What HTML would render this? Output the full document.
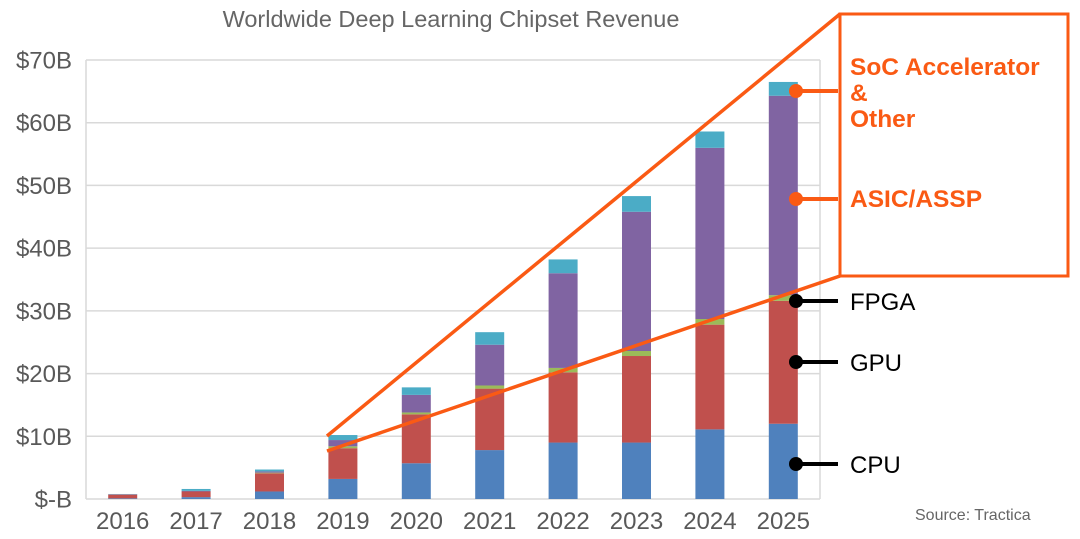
<!DOCTYPE html>
<html><head><meta charset="utf-8"><style>
body{margin:0;background:#fff;width:1080px;height:534px;overflow:hidden;font-family:"Liberation Sans",Arial,sans-serif}
</style></head><body>
<svg width="1080" height="534" id="svg" xmlns="http://www.w3.org/2000/svg">
<text x="451" y="27" text-anchor="middle" font-size="23.5" fill="#666">Worldwide Deep Learning Chipset Revenue</text>
<g id="grid"></g><g id="bars"></g><g id="ann"></g>
<text x="915" y="520" font-size="16" fill="#666">Source: Tractica</text>
</svg>
<script>
const years=["2016","2017","2018","2019","2020","2021","2022","2023","2024","2025"];
const cpu=[0.1,0.3,1.2,3.2,5.7,7.8,9.0,9.0,11.1,12.0];
const gpu=[0.6,0.9,2.9,4.9,7.8,9.8,11.2,13.8,16.7,19.6];
const fpga=[0.0,0.0,0.1,0.3,0.3,0.5,0.7,0.8,0.9,0.9];
const asic=[0.05,0.1,0.2,1.0,2.8,6.5,15.1,22.2,27.3,31.8];
const soc=[0.05,0.3,0.3,0.8,1.2,2.0,2.2,2.5,2.6,2.2];
const yTicks=[0,10,20,30,40,50,60,70];
const yTickLabels=["$-B","$10B","$20B","$30B","$40B","$50B","$60B","$70B"];
const series=[["cpu",cpu,"#4f81bd"],["gpu",gpu,"#c0504d"],["fpga",fpga,"#9bbb59"],["asic",asic,"#8064a2"],["soc",soc,"#4bacc6"]];
const NS="http://www.w3.org/2000/svg";
const L=86,R=820,T=60,B=499;
const y=v=>B-(v/70)*(B-T);
const step=(R-L)/years.length;
const x=i=>L+step*(i+0.5);
function mk(tag,attrs,parent,text){const e=document.createElementNS(NS,tag);for(const k in attrs)e.setAttribute(k,attrs[k]);if(text!==undefined)e.textContent=text;parent.appendChild(e);return e;}
const grid=document.getElementById('grid');
mk('line',{x1:L,y1:T,x2:L,y2:B,stroke:'#d9d9d9','stroke-width':1.5},grid);
mk('line',{x1:R,y1:T,x2:R,y2:B,stroke:'#d9d9d9','stroke-width':1.5},grid);
yTicks.forEach((t,i)=>{
 const l=mk('line',{x1:L,y1:y(t),x2:R,y2:y(t),stroke:'#d9d9d9','stroke-width':1.5},grid);
 
 
 const tx=mk('text',{x:72,y:y(t)+8.5,'text-anchor':'end','font-size':24,fill:'#595959'},grid,yTickLabels[i]);
 
 
});
const bars=document.getElementById('bars');
years.forEach((yr,i)=>{
 let base=0;
 series.forEach(([n,arr,c])=>{
  const v=arr[i];
  const r=mk('rect',{x:x(i)-14.5,y:y(base+v),width:29,height:Math.max(0,y(base)-y(base+v)),fill:c},bars);
  
  
  base+=v;
 });
 const tx=mk('text',{x:x(i),y:529,'text-anchor':'middle','font-size':24,fill:'#595959'},bars,yr);
 
 
});
const ann=document.getElementById('ann');
const OR='#fa5a14';
mk('line',{x1:327,y1:436,x2:840,y2:14,stroke:OR,'stroke-width':3.5},ann);
mk('line',{x1:327,y1:451,x2:840,y2:276,stroke:OR,'stroke-width':3.5},ann);
const box=mk('rect',{x:840,y:14,width:228,height:262,fill:'#fff',stroke:OR,'stroke-width':3},ann);


[[91,OR],[199,OR],[301,'#000'],[362,'#000'],[464,'#000']].forEach(([yy,c])=>{
 mk('line',{x1:796,y1:yy,x2:838,y2:yy,stroke:c,'stroke-width':4},ann);
 mk('circle',{cx:796,cy:yy,r:7,fill:c},ann);
});
[["SoC Accelerator",75],["&",101],["Other",127],["ASIC/ASSP",207]].forEach(([t,yy])=>{
 const e=mk('text',{x:850,y:yy,'font-size':24.5,'font-weight':'bold',fill:OR},ann,t);
 
 
});
[["FPGA",310],["GPU",371],["CPU",473]].forEach(([t,yy])=>{
 const e=mk('text',{x:850,y:yy,'font-size':24,fill:'#000'},ann,t);
 
 
});
</script>
</body></html>
